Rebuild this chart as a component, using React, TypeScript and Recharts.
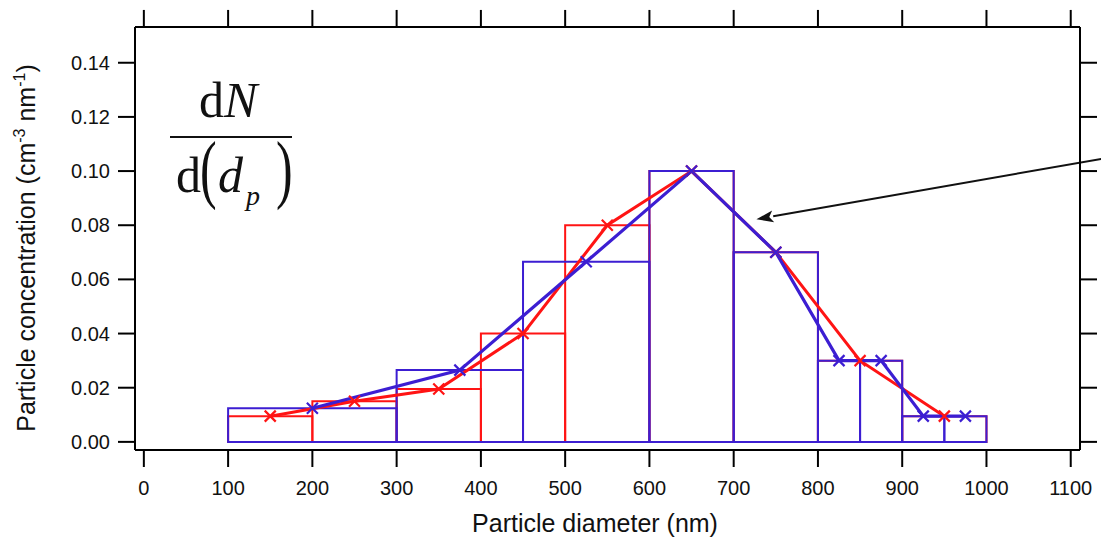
import {
  ComposedChart,
  Line,
  ReferenceArea,
  ReferenceLine,
  XAxis,
  YAxis,
} from "recharts";

const RED = "#ff1414";
const BLUE = "#3c1ed2";
const INK = "#111";

// histogram bins (edges) and heights
const redEdges = [100, 200, 300, 400, 500, 600, 700, 800, 900, 1000];
const redValues = [0.0095, 0.015, 0.0195, 0.04, 0.08, 0.1, 0.07, 0.03, 0.0095];
const blueEdges = [100, 300, 450, 600, 700, 800, 850, 900, 950, 1000];
const blueValues = [0.0124, 0.0265, 0.0665, 0.1, 0.07, 0.03, 0.03, 0.0095, 0.0095];

// points drawn at bin centres
const redX = [150, 250, 350, 450, 550, 650, 750, 850, 950];
const blueX = [200, 375, 525, 650, 750, 825, 875, 925, 975];

const xTicks = [0, 100, 200, 300, 400, 500, 600, 700, 800, 900, 1000, 1100];
const yTicks = [0, 0.02, 0.04, 0.06, 0.08, 0.1, 0.12, 0.14];

const X_DOMAIN: [number, number] = [-10.5, 1111];
const Y_DOMAIN: [number, number] = [-0.003, 0.1532];
// top ticks stick out 17px above the frame (17 / 2711 px per unit)
const TOP_TICK_END = 0.1595;

const arrowTip = { x: 727, y: 0.0822 };
const arrowTail = { x: 1140, y: 0.1047 };

const redPts = redX.map((x, i) => ({ x, y: redValues[i] }));
const bluePts = blueX.map((x, i) => ({ x, y: blueValues[i] }));

const FONT = "'Liberation Sans', Arial, sans-serif";
const SERIF = "'Liberation Serif', 'Times New Roman', serif";

const tickStyle = { fill: INK, fontSize: 20, fontFamily: FONT };
const lineStyle = { stroke: "#000", strokeWidth: 2 };

function Cross({ cx, cy, color }: { cx?: number; cy?: number; color: string }) {
  if (cx == null || cy == null) return null;
  const s = 5.5;
  return (
    <path
      d={`M${cx - s},${cy - s}L${cx + s},${cy + s}M${cx - s},${cy + s}L${cx + s},${cy - s}`}
      stroke={color}
      strokeWidth={2.2}
      fill="none"
    />
  );
}

function Arrow(props: any) {
  const { x1, y1, x2, y2 } = props;
  const ang = Math.atan2(y1 - y2, x1 - x2);
  const len = 17;
  const half = 6;
  const bx = x1 - len * Math.cos(ang);
  const by = y1 - len * Math.sin(ang);
  const px = -Math.sin(ang) * half;
  const py = Math.cos(ang) * half;
  return (
    <g>
      <line x1={bx} y1={by} x2={x2} y2={y2} stroke="#111" strokeWidth={2} />
      <path
        d={`M${x1},${y1}L${bx + px},${by + py}L${bx + 4 * Math.cos(ang)},${by + 4 * Math.sin(ang)}L${bx - px},${by - py}Z`}
        fill="#111"
      />
    </g>
  );
}

export default function App() {
  return (
    <div style={{ position: "absolute", left: 0, top: 0, width: 1101, height: 538, background: "#fff" }}>
      <ComposedChart width={1101} height={538} margin={{ top: 0, right: 0, bottom: 0, left: 0 }}>
        <XAxis
          xAxisId={0}
          type="number"
          dataKey="x"
          domain={X_DOMAIN}
          allowDataOverflow
          ticks={xTicks}
          interval={0}
          height={88}
          tickSize={17}
          tickMargin={14}
          tick={tickStyle}
          axisLine={lineStyle}
          tickLine={lineStyle}
        />
        <XAxis
          xAxisId="top"
          orientation="top"
          type="number"
          domain={X_DOMAIN}
          allowDataOverflow
          ticks={xTicks}
          interval={0}
          height={27}
          tickSize={17}
          tickFormatter={() => ""}
          axisLine={lineStyle}
          tickLine={lineStyle}
        />
        <YAxis
          yAxisId={0}
          type="number"
          domain={Y_DOMAIN}
          allowDataOverflow
          ticks={yTicks}
          interval={0}
          width={135}
          tickSize={17}
          tickMargin={8}
          tick={tickStyle}
          tickFormatter={(v) => Number(v).toFixed(2)}
          axisLine={lineStyle}
          tickLine={lineStyle}
        />
        <YAxis
          yAxisId="right"
          orientation="right"
          type="number"
          domain={Y_DOMAIN}
          allowDataOverflow
          ticks={yTicks}
          interval={0}
          width={21}
          tickSize={17}
          tickFormatter={() => ""}
          axisLine={lineStyle}
          tickLine={lineStyle}
        />

        {xTicks.map((t) => (
          <ReferenceLine
            key={`tt${t}`}
            segment={[
              { x: t, y: Y_DOMAIN[1] },
              { x: t, y: TOP_TICK_END },
            ]}
            ifOverflow="visible"
            stroke="#000"
            strokeWidth={2}
          />
        ))}

        {redValues.map((v, i) => (
          <ReferenceArea
            key={`r${i}`}
            x1={redEdges[i]}
            x2={redEdges[i + 1]}
            y1={0}
            y2={v}
            fill="none"
            fillOpacity={0}
            stroke={RED}
            strokeWidth={2}
            strokeOpacity={1}
            ifOverflow="visible"
          />
        ))}
        {blueValues.map((v, i) => (
          <ReferenceArea
            key={`b${i}`}
            x1={blueEdges[i]}
            x2={blueEdges[i + 1]}
            y1={0}
            y2={v}
            fill="none"
            fillOpacity={0}
            stroke={BLUE}
            strokeWidth={2}
            strokeOpacity={1}
            ifOverflow="visible"
          />
        ))}

        <Line
          data={redPts}
          dataKey="y"
          type="linear"
          stroke={RED}
          strokeWidth={3}
          dot={(p: any) => <Cross key={`rd${p.index}`} cx={p.cx} cy={p.cy} color={RED} />}
          activeDot={false}
          isAnimationActive={false}
        />
        <Line
          data={bluePts}
          dataKey="y"
          type="linear"
          stroke={BLUE}
          strokeWidth={3.2}
          dot={(p: any) => <Cross key={`bd${p.index}`} cx={p.cx} cy={p.cy} color={BLUE} />}
          activeDot={false}
          isAnimationActive={false}
        />

        <ReferenceLine
          segment={[arrowTip, arrowTail]}
          ifOverflow="visible"
          shape={(p: any) => <Arrow {...p} />}
        />
      </ComposedChart>

      <svg
        width={1101}
        height={538}
        style={{ position: "absolute", left: 0, top: 0, pointerEvents: "none" }}
      >
        <text x={595} y={532} textAnchor="middle" fontFamily={FONT} fontSize={25} fill={INK}>
          Particle diameter (nm)
        </text>
        <text
          transform="translate(35,248) rotate(-90)"
          textAnchor="middle"
          fontFamily={FONT}
          fontSize={25}
          fill={INK}
        >
          Particle concentration (cm
          <tspan fontSize={16} dy={-10}>-3</tspan>
          <tspan dy={10}> nm</tspan>
          <tspan fontSize={16} dy={-10}>-1</tspan>
          <tspan dy={10}>)</tspan>
        </text>

        {/* dN / d(d_p) */}
        <text x={199} y={117} fontFamily={SERIF} fontSize={50} fill={INK}>
          d<tspan fontStyle="italic">N</tspan>
        </text>
        <line x1={170} y1={137} x2={292} y2={137} stroke={INK} strokeWidth={2} />
        <text x={176} y={192} fontFamily={SERIF} fontSize={50} fill={INK}>
          d
        </text>
        <text transform="translate(200,194) scale(1,1.53)" fontFamily={SERIF} fontSize={50} fill={INK}>
          (
        </text>
        <text x={218} y={192} fontFamily={SERIF} fontSize={50} fontStyle="italic" fill={INK}>
          d
        </text>
        <text x={246} y={205} fontFamily={SERIF} fontSize={28} fontStyle="italic" fill={INK}>
          p
        </text>
        <text transform="translate(276,194) scale(1,1.53)" fontFamily={SERIF} fontSize={50} fill={INK}>
          )
        </text>
      </svg>
    </div>
  );
}
